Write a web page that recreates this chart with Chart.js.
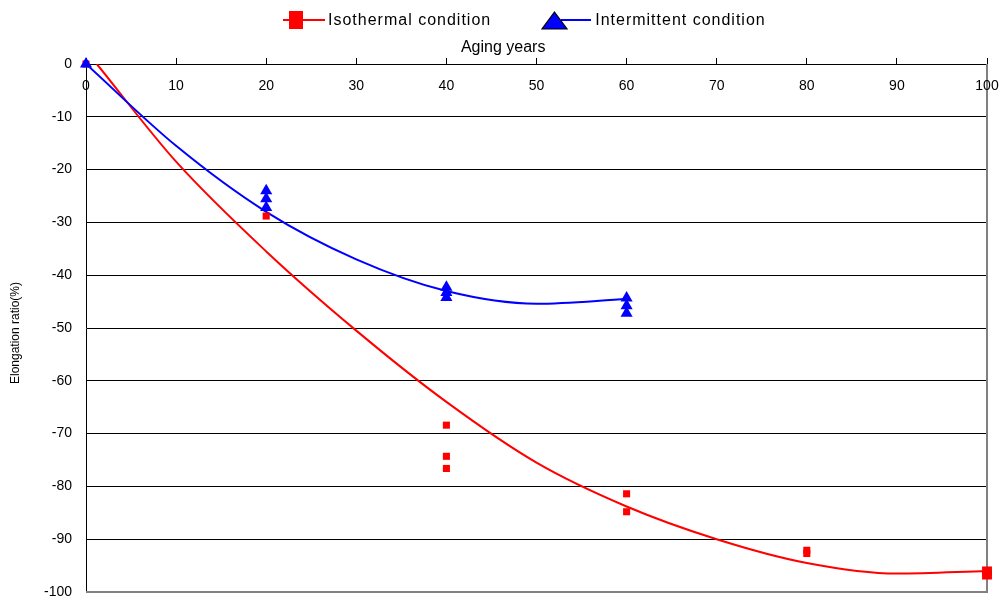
<!DOCTYPE html>
<html>
<head>
<meta charset="utf-8">
<script src="https://cdn.jsdelivr.net/npm/chart.js@4.4.0/dist/chart.umd.min.js"></script>
<style>
  body { margin: 0; background: #fff; }
  #wrap { position: relative; width: 1003px; height: 603px; }
  #legend { position: absolute; top: 8px; left: 283px; height: 24px; display: flex; align-items: center;
            font-family: "Liberation Sans", Arial, sans-serif; font-size: 16px; letter-spacing: 1px; color: #000; }
  .item { display: flex; align-items: center; }
  .sym { position: relative; width: 42px; height: 24px; }
  .sym .ln { position: absolute; left: 0; right: 0; top: 11px; height: 2px; }
</style>
</head>
<body>
<div id="wrap">
  <canvas id="chart" width="1003" height="603"></canvas>
  <div id="legend">
    <div class="item">
      <div class="sym" style="width:42px">
        <div class="ln" style="background:#ff0000"></div>
        <div style="position:absolute;left:6px;top:3px;width:14px;height:18px;background:#ff0000"></div>
      </div>
      <span style="margin-left:3px">Isothermal condition</span>
    </div>
    <div class="item" style="margin-left:50px">
      <div class="sym" style="width:50px">
        <div class="ln" style="background:#0000ff;left:20px"></div>
        <svg style="position:absolute;left:0;top:3px" width="27" height="19"><polygon points="13.5,1 26,18 1,18" fill="#0000ff" stroke="#000" stroke-width="1.2"/></svg>
      </div>
      <span style="margin-left:4px">Intermittent condition</span>
    </div>
  </div>
</div>
<script>
// measured points
const isoYears = [0, 20, 40, 40, 40, 60, 60, 80, 80, 100, 100];
const isoValues = [0, -28.8, -68.4, -74.3, -76.6, -81.4, -84.8, -92.1, -92.7, -96.1, -96.7];

const intYears = [0, 20, 20, 20, 40, 40, 40, 60, 60, 60];
const intValues = [0, -24.0, -25.5, -27.2, -42.3, -43.3, -44.2, -44.3, -45.8, -47.2];

// trend curves
const isoTrendX = [1.2, 10, 20, 30, 40, 50, 60, 70, 80, 90, 100];
const isoTrendY = [0, -18.5, -35.5, -50.5, -64, -75.5, -83.8, -90, -94.5, -96.5, -96];
const intTrendX = [0, 10, 20, 30, 40, 50, 60];
const intTrendY = [0, -15.5, -28, -37, -43, -45.4, -44.5];

const xTicks = [0, 10, 20, 30, 40, 50, 60, 70, 80, 90, 100];
const yTicks = [0, -10, -20, -30, -40, -50, -60, -70, -80, -90, -100];

function toPoints(xs, ys) {
    return xs.map((x, i) => ({ x: x, y: ys[i] }));
}

const fontFamily = '"Liberation Sans", Arial, sans-serif';
const font = { family: fontFamily, size: 14 };

// grey frame on right and bottom
const framePlugin = {
    id: 'frame',
    beforeDatasetsDraw(chart) {
        const { ctx, chartArea: a } = chart;
        ctx.save();
        ctx.strokeStyle = '#808080';
        ctx.lineWidth = 2;
        ctx.beginPath();
        ctx.moveTo(a.left, a.bottom);
        ctx.lineTo(a.right, a.bottom);
        ctx.lineTo(a.right, a.top);
        ctx.stroke();
        ctx.restore();
    }
};

// x tick labels sit just below the top axis line, inside the plot
const xLabelPlugin = {
    id: 'xLabels',
    afterDraw(chart) {
        const { ctx, scales } = chart;
        const sx = scales.x;
        ctx.save();
        ctx.font = '14px ' + fontFamily;
        ctx.fillStyle = '#000';
        ctx.textAlign = 'center';
        ctx.textBaseline = 'middle';
        xTicks.forEach(v => {
            ctx.fillText(String(v), sx.getPixelForValue(v), sx.bottom + 22);
        });
        ctx.restore();
    }
};

new Chart(document.getElementById('chart'), {
    type: 'scatter',
    data: {
        datasets: [
            {
                label: 'Isothermal trend',
                data: toPoints(isoTrendX, isoTrendY),
                order: 3,
                showLine: true,
                borderColor: '#ff0000',
                borderWidth: 2,
                pointRadius: 0,
                cubicInterpolationMode: 'monotone'
            },
            {
                label: 'Intermittent trend',
                data: toPoints(intTrendX, intTrendY),
                order: 2,
                showLine: true,
                borderColor: '#0000ff',
                borderWidth: 2,
                pointRadius: 0,
                cubicInterpolationMode: 'monotone'
            },
            {
                label: 'Isothermal condition',
                data: toPoints(isoYears, isoValues),
                order: 1,
                clip: false,
                pointStyle: 'rect',
                pointRadius: c => (c.raw && c.raw.x === 100 ? 7 : 5),
                backgroundColor: '#ff0000',
                borderColor: '#ff0000',
                borderWidth: 0
            },
            {
                label: 'Intermittent condition',
                data: toPoints(intYears, intValues),
                order: 0,
                clip: false,
                pointStyle: 'triangle',
                pointRadius: 7,
                backgroundColor: '#0000ff',
                borderColor: '#0000ff',
                borderWidth: 0
            }
        ]
    },
    options: {
        responsive: false,
        animation: false,
        layout: { padding: { left: 0, right: 16, top: 0, bottom: 11 } },
        plugins: { legend: { display: false }, tooltip: { enabled: false } },
        scales: {
            x: {
                type: 'linear',
                position: 'top',
                min: 0,
                max: 100,
                afterBuildTicks: s => { s.ticks = xTicks.map(v => ({ value: v })); },
                afterFit: s => { s.height = 64; s.paddingLeft = 0; s.paddingRight = 0; },
                ticks: { display: false },
                grid: { drawOnChartArea: false, drawTicks: true, tickLength: 6, color: '#000' },
                border: { color: '#000', width: 1 },
                title: { display: true, text: 'Aging years               ', font: { family: fontFamily, size: 16 }, color: '#000', padding: { top: 38, bottom: 0 } }
            },
            y: {
                min: -100,
                max: 0,
                afterBuildTicks: s => { s.ticks = yTicks.map(v => ({ value: v })); },
                afterFit: s => { s.width = 86; s.paddingTop = 0; s.paddingBottom = 0; },
                ticks: { font: font, color: '#000', padding: 14 },
                grid: { color: '#000', lineWidth: 1, drawTicks: false },
                border: { color: '#000', width: 1 },
                title: { display: true, text: 'Elongation ratio(%)   ', font: { family: fontFamily, size: 12 }, color: '#000', padding: { top: 8, bottom: 0 } }
            }
        }
    },
    plugins: [framePlugin, xLabelPlugin]
});
</script>
</body>
</html>
